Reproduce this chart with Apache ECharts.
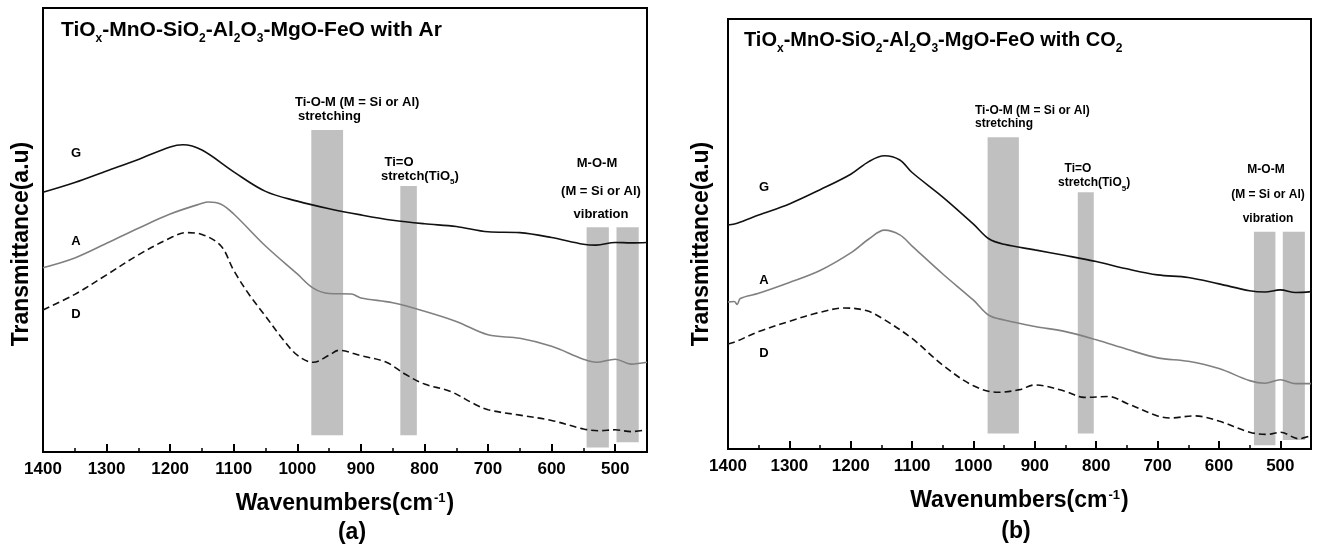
<!DOCTYPE html>
<html>
<head>
<meta charset="utf-8">
<script src="https://cdn.jsdelivr.net/npm/echarts@6/dist/echarts.min.js"></script>
<style>html,body{margin:0;padding:0;background:#fff;}#c{width:1317px;height:550px;}</style>
</head>
<body>
<div id="c"></div>
<script>
// ---------- data (wavenumber cm-1, transmittance a.u. 0-100) ----------
const majorTicks = [1400, 1300, 1200, 1100, 1000, 900, 800, 700, 600, 500];
const xMin = 450, xMax = 1400;

const G_Ar = [[1400,58.5],[1350,60.7],[1300,63.3],[1250,65.9],[1200,68.7],[1180,69.2],[1150,68.0],[1100,63.1],[1050,58.7],[1000,56.5],[950,54.8],[900,53.4],[850,52.2],[800,51.4],[750,50.8],[700,49.6],[650,49.4],[600,48.3],[550,46.8],[530,46.6],[500,47.2],[475,47.1],[450,47.2]];
const A_Ar = [[1400,41.5],[1350,43.7],[1300,47.0],[1250,50.4],[1200,53.6],[1150,56.0],[1140,56.3],[1120,55.8],[1100,53.6],[1050,46.4],[1000,40.1],[975,36.9],[950,35.7],[915,35.6],[900,34.7],[850,33.6],[800,31.7],[750,29.4],[700,26.4],[650,25.6],[600,23.8],[550,20.9],[530,20.2],[500,20.9],[475,19.8],[450,20.2]];
const D_Ar = [[1400,32.0],[1350,35.5],[1300,39.9],[1250,44.4],[1200,48.2],[1175,49.4],[1150,49.0],[1120,46.4],[1100,40.9],[1075,35.3],[1050,30.6],[1025,25.8],[1000,21.8],[975,20.2],[950,21.8],[935,22.9],[900,21.7],[860,20.2],[830,17.5],[800,15.3],[760,13.7],[720,10.7],[700,9.5],[650,8.3],[600,7.1],[550,5.2],[525,4.8],[500,5.0],[475,4.6],[450,5.0]];

const G_CO2 = [[1400,52.1],[1385,52.5],[1350,54.4],[1300,57.0],[1250,60.3],[1200,63.9],[1170,66.9],[1145,68.2],[1120,67.2],[1100,64.3],[1050,58.6],[1000,52.3],[975,48.9],[950,47.6],[900,46.3],[850,45.0],[800,43.6],[750,41.9],[700,40.5],[650,39.9],[600,38.4],[550,36.8],[525,36.5],[500,37.0],[475,36.4],[450,36.6]];
const A_CO2 = [[1400,34.2],[1390,34.3],[1385,33.6],[1380,35.0],[1350,36.2],[1300,38.7],[1250,41.5],[1200,45.6],[1170,48.9],[1145,50.9],[1120,49.8],[1100,47.2],[1050,40.7],[1000,34.6],[975,31.1],[950,30.0],[900,28.5],[850,27.3],[800,25.4],[750,23.2],[700,21.2],[650,20.4],[600,18.7],[550,15.9],[525,15.3],[500,16.1],[475,15.2],[450,15.2]];
const D_CO2 = [[1400,24.4],[1390,24.8],[1350,27.3],[1300,29.7],[1250,31.8],[1210,32.8],[1175,32.2],[1150,30.5],[1100,25.7],[1050,19.5],[1000,14.7],[960,13.2],[925,13.8],[900,14.9],[850,13.4],[820,12.0],[780,12.2],[750,10.6],[700,7.7],[680,7.2],[640,7.7],[600,6.5],[550,3.9],[520,3.4],[500,3.9],[470,2.4],[450,3.1]];

// bands: [from wavenumber, to wavenumber, bottom, top]
const bandsAr  = [[978,928,3.8,72.5],[838,812,3.8,59.9],[545,510,1.0,50.6],[498,463,2.2,50.6]];
const bandsCO2 = [[977,926,3.6,72.5],[830,804,3.6,59.7],[543,508,0.9,50.5],[496,460,2.1,50.5]];

// ---------- styling ----------
const FF = "'Liberation Sans', Arial, Helvetica, sans-serif";
const grids = [
  {left: 43, top: 8, width: 604, height: 444, show: true, borderColor: '#000', borderWidth: 2, backgroundColor: 'transparent'},
  {left: 728, top: 19, width: 583, height: 430, show: true, borderColor: '#000', borderWidth: 2, backgroundColor: 'transparent'}
];

const xName = {
  text: '{b|Wavenumbers(cm}{sup|-1}{b|)}',
  rich: {
    b: {fontFamily: FF, fontWeight: 'bold', fontSize: 23, color: '#000', lineHeight: 26, verticalAlign: 'top'},
    sup: {fontFamily: FF, fontWeight: 'bold', fontSize: 13, color: '#000', lineHeight: 14, verticalAlign: 'top', padding: [0, 1, 0, 1]}
  }
};

function xAxesFor(gi) {
  return [
    { // minor ticks
      type: 'value', gridIndex: gi, min: xMin, max: xMax, interval: 50, inverse: true,
      axisLine: {show: false}, splitLine: {show: false},
      axisTick: {show: true, inside: true, length: 4, lineStyle: {color: '#000', width: 1.5}},
      axisLabel: {show: false},
      name: xName.text, nameLocation: 'middle', nameGap: 40,
      nameTextStyle: {rich: xName.rich}
    },
    { // major ticks + labels
      type: 'value', gridIndex: gi, min: xMin, max: xMax, inverse: true, position: 'bottom',
      axisLine: {show: false}, splitLine: {show: false},
      axisTick: {show: true, inside: true, length: 8, customValues: majorTicks, lineStyle: {color: '#000', width: 2}},
      axisLabel: {show: true, customValues: majorTicks, margin: 9, fontFamily: FF, fontWeight: 'bold', fontSize: 17, color: '#000',
                  formatter: function (v) { return String(v); }}
    }
  ];
}

function yAxisFor(gi) {
  return {
    type: 'value', gridIndex: gi, min: 0, max: 100,
    axisLine: {show: false}, axisTick: {show: false}, axisLabel: {show: false}, splitLine: {show: false}
  };
}

function bandSeries(data, xi, yi) {
  return {
    type: 'custom', xAxisIndex: xi, yAxisIndex: yi, z: 1, silent: true,
    data: data,
    renderItem: function (params, api) {
      const p0 = api.coord([api.value(0), api.value(3)]);
      const p1 = api.coord([api.value(1), api.value(2)]);
      return {type: 'rect', shape: {x: Math.min(p0[0], p1[0]), y: p0[1], width: Math.abs(p1[0] - p0[0]), height: p1[1] - p0[1]},
              style: {fill: '#c0c0c0'}};
    }
  };
}

function lineSeries(data, xi, yi, color, dashed) {
  return {
    type: 'line', xAxisIndex: xi, yAxisIndex: yi, z: 3, data: data, smooth: 0.35, symbol: 'none', silent: true,
    lineStyle: {color: color, width: 1.6, type: dashed ? [7, 4] : 'solid'}
  };
}

function richTitle(size) {
  return {
    b: {fontFamily: FF, fontWeight: 'bold', fontSize: size, fill: '#000', lineHeight: 24, verticalAlign: 'top'},
    s: {fontFamily: FF, fontWeight: 'bold', fontSize: 12, fill: '#000', lineHeight: 14, verticalAlign: 'top', padding: [13, 0, 0, 0]}
  };
}
function richAnn(size) {
  return {
    b: {fontFamily: FF, fontWeight: 'bold', fontSize: size, fill: '#000', lineHeight: 14, verticalAlign: 'top'},
    s: {fontFamily: FF, fontWeight: 'bold', fontSize: 8, fill: '#000', lineHeight: 9, verticalAlign: 'top', padding: [8, 0, 0, 0]}
  };
}

function txt(text, x, y, align, size, rot) {
  return {type: 'text', x: x, y: y, z: 10, silent: true, rotation: rot || 0,
          style: {text: text, fontFamily: FF, fontWeight: 'bold', fontSize: size || 12.5, fill: '#000', align: align || 'center', verticalAlign: 'middle'}};
}
function richTxt(text, x, y, rich, align) {
  return {type: 'text', x: x, y: y, z: 10, silent: true,
          style: {text: text, rich: rich, align: align || 'left', verticalAlign: 'top'}};
}

const graphics = [
  // panel a
  richTxt('{b|TiO}{s|x}{b|-MnO-SiO}{s|2}{b|-Al}{s|2}{b|O}{s|3}{b|-MgO-FeO with Ar}', 61, 20, richTitle(21)),
  txt('Ti-O-M (M = Si or Al)', 295, 102, 'left', 13),
  txt('stretching', 298, 116, 'left', 13),
  txt('Ti=O', 399, 162, 'center', 13),
  richTxt('{b|stretch(TiO}{s|5}{b|)}', 381, 170, richAnn(13)),
  txt('M-O-M', 597, 163, 'center', 13),
  txt('(M = Si or Al)', 601, 191, 'center', 13),
  txt('vibration', 601, 214, 'center', 13),
  txt('G', 76, 153, 'center', 13),
  txt('A', 76, 241, 'center', 13),
  txt('D', 76, 314, 'center', 13),
  txt('Transmittance(a.u)', 22, 244, 'center', 23, Math.PI / 2),
  txt('(a)', 352, 533, 'center', 23),
  // panel b
  richTxt('{b|TiO}{s|x}{b|-MnO-SiO}{s|2}{b|-Al}{s|2}{b|O}{s|3}{b|-MgO-FeO with CO}{s|2}', 744, 30, richTitle(20)),
  txt('Ti-O-M (M = Si or Al)', 975, 111, 'left', 12),
  txt('stretching', 975, 124, 'left', 12),
  txt('Ti=O', 1078, 169, 'center', 12),
  richTxt('{b|stretch(TiO}{s|5}{b|)}', 1058, 177, richAnn(12)),
  txt('M-O-M', 1266, 170, 'center', 12),
  txt('(M = Si or Al)', 1268, 195, 'center', 12),
  txt('vibration', 1268, 219, 'center', 12),
  txt('G', 764, 187, 'center', 13),
  txt('A', 764, 280, 'center', 13),
  txt('D', 764, 353, 'center', 13),
  txt('Transmittance(a.u)', 702, 244, 'center', 23, Math.PI / 2),
  txt('(b)', 1016, 532, 'center', 23)
];

const option = {
  animation: false,
  backgroundColor: '#fff',
  grid: grids,
  xAxis: xAxesFor(0).concat(xAxesFor(1)),
  yAxis: [yAxisFor(0), yAxisFor(1)],
  series: [
    bandSeries(bandsAr, 0, 0),
    lineSeries(G_Ar, 0, 0, '#111', false),
    lineSeries(A_Ar, 0, 0, '#808080', false),
    lineSeries(D_Ar, 0, 0, '#111', true),
    bandSeries(bandsCO2, 2, 1),
    lineSeries(G_CO2, 2, 1, '#111', false),
    lineSeries(A_CO2, 2, 1, '#808080', false),
    lineSeries(D_CO2, 2, 1, '#111', true)
  ],
  graphic: graphics
};

const chart = echarts.init(document.getElementById('c'), null, {renderer: 'canvas'});
chart.setOption(option);
</script>
</body>
</html>
